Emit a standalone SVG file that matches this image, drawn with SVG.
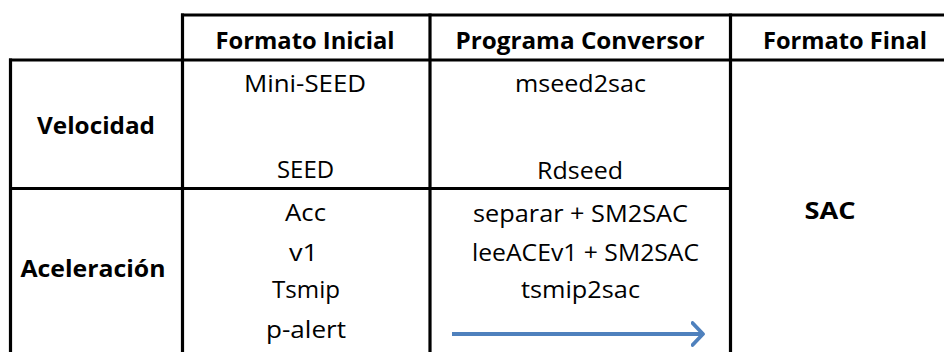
<svg xmlns="http://www.w3.org/2000/svg" width="944" height="352" viewBox="0 0 944 352">
  <style>
    .grid line { stroke: #000; stroke-width: 3.2; }
    text { font-family: "Open Sans", "Noto Sans", sans-serif; font-size: 24px; fill: #000; text-anchor: middle; }
    .hd { font-weight: 700; }
  </style>
  <defs>
    <marker id="head" viewBox="0 0 14 26" refX="12" refY="13" markerWidth="14" markerHeight="26" markerUnits="userSpaceOnUse" orient="auto">
      <path d="M1.5 2 L12 13 L1.5 24" fill="none" stroke="#4F81BD" stroke-width="3.8" stroke-linecap="round" stroke-linejoin="round"/>
    </marker>
  </defs>
  <rect width="944" height="352" fill="#fff"/>

  <!-- table rules -->
  <g id="grid" class="grid">
    <line x1="181" y1="15" x2="944" y2="15"/>
    <line x1="9" y1="60" x2="944" y2="60"/>
    <line x1="10.5" y1="58.5" x2="10.5" y2="352"/>
    <line x1="182.5" y1="13.5" x2="182.5" y2="352"/>
    <line x1="430" y1="13.5" x2="430" y2="352"/>
    <line x1="730.5" y1="13.5" x2="730.5" y2="352"/>
    <line x1="9" y1="188.5" x2="732" y2="188.5"/>
  </g>

  <!-- header row -->
  <g id="header">
    <text class="hd" x="305" y="49" textLength="179" lengthAdjust="spacingAndGlyphs">Formato Inicial</text>
    <text class="hd" x="580" y="49" textLength="249" lengthAdjust="spacingAndGlyphs">Programa Conversor</text>
    <text class="hd" x="845" y="49" textLength="164" lengthAdjust="spacingAndGlyphs">Formato Final</text>
  </g>

  <!-- Velocidad row -->
  <g id="velocidad">
    <text class="hd" x="96" y="134" textLength="118" lengthAdjust="spacingAndGlyphs">Velocidad</text>
    <text x="305" y="92" textLength="122" lengthAdjust="spacingAndGlyphs">Mini-SEED</text>
    <text x="305.5" y="178" textLength="57" lengthAdjust="spacingAndGlyphs">SEED</text>
    <text x="580.5" y="92" textLength="131" lengthAdjust="spacingAndGlyphs">mseed2sac</text>
    <text x="580" y="179" textLength="86" lengthAdjust="spacingAndGlyphs">Rdseed</text>
  </g>

  <!-- Aceleración row -->
  <g id="aceleracion">
    <text class="hd" x="93" y="277" textLength="145" lengthAdjust="spacingAndGlyphs">Aceleración</text>
    <text x="305.5" y="221" textLength="41" lengthAdjust="spacingAndGlyphs">Acc</text>
    <text x="303.5" y="261" textLength="29" lengthAdjust="spacingAndGlyphs">v1</text>
    <text x="306" y="298" textLength="68" lengthAdjust="spacingAndGlyphs">Tsmip</text>
    <text x="306" y="338" textLength="80" lengthAdjust="spacingAndGlyphs">p-alert</text>
    <text x="580.5" y="222" textLength="215" lengthAdjust="spacingAndGlyphs">separar + SM2SAC</text>
    <text x="585.5" y="261" textLength="227" lengthAdjust="spacingAndGlyphs">leeACEv1 + SM2SAC</text>
    <text x="580.5" y="298" textLength="119" lengthAdjust="spacingAndGlyphs">tsmip2sac</text>
  </g>

  <!-- merged output cell -->
  <g id="sac">
    <text class="hd" x="830" y="219" textLength="51" lengthAdjust="spacingAndGlyphs">SAC</text>
  </g>

  <!-- connector -->
  <g id="connectors">
    <line x1="452" y1="334" x2="703" y2="334" stroke="#4F81BD" stroke-width="3.8" marker-end="url(#head)"/>
  </g>
</svg>
